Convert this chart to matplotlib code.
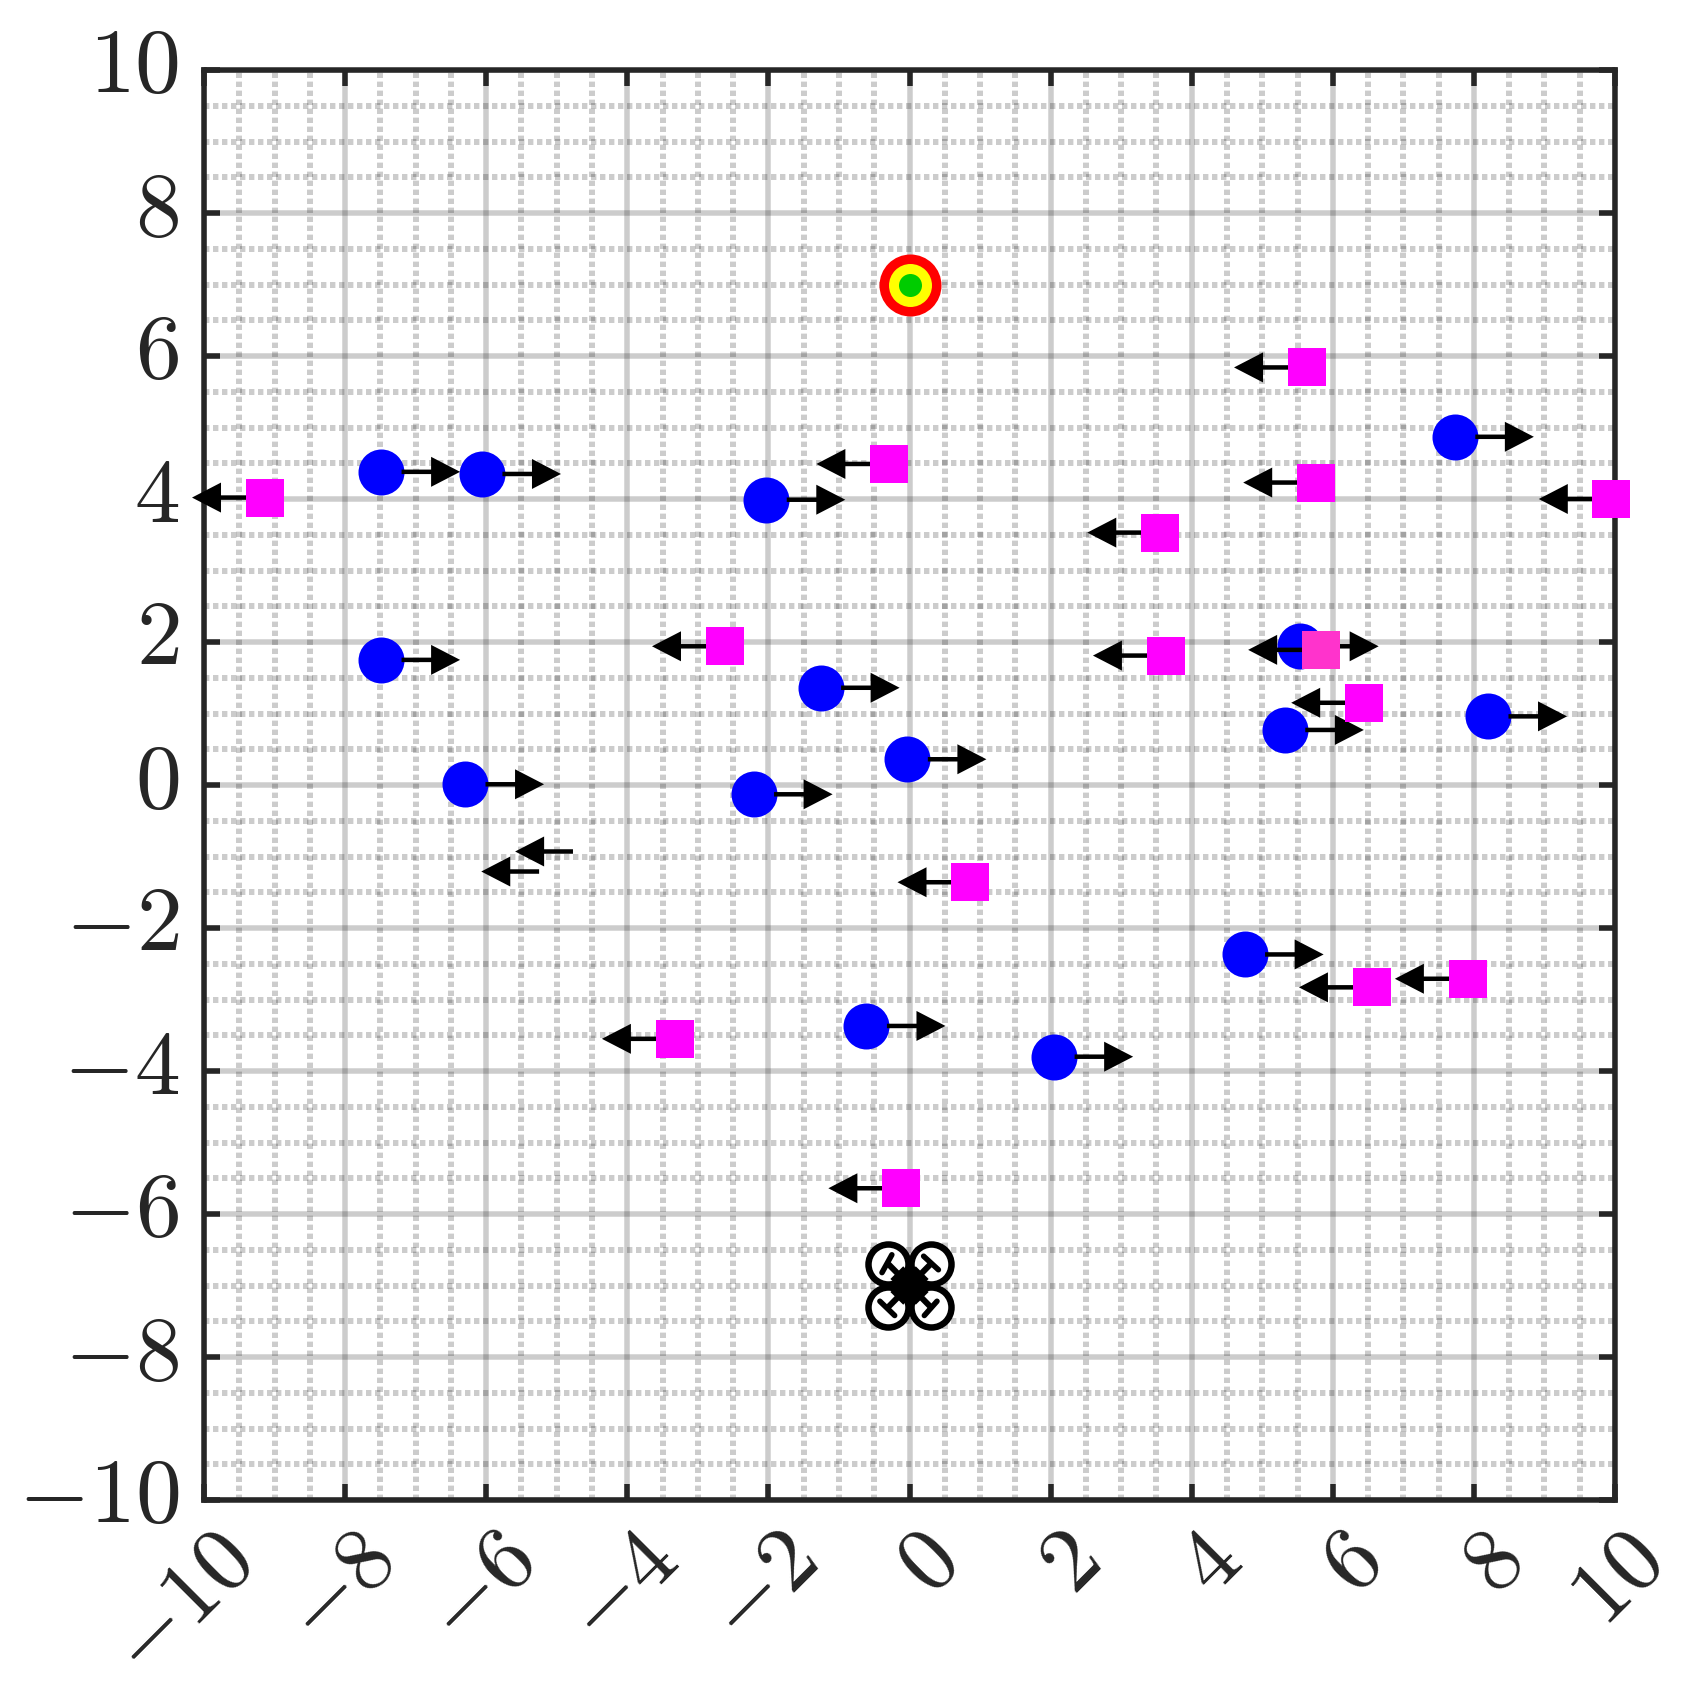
import matplotlib
matplotlib.use("Agg")
import matplotlib.pyplot as plt
from matplotlib.transforms import ScaledTranslation
import numpy as np

# ---- data ----
agent_x = [-7.49, -6.06, -2.03, 7.73, -7.49, -1.26, -6.30, -2.21, -0.03, 5.53, 5.32, 8.20, 4.75, -0.61, 2.05]
agent_y = [4.38, 4.35, 3.99, 4.87, 1.75, 1.36, 0.01, -0.13, 0.36, 1.94, 0.77, 0.96, -2.37, -3.37, -3.80]
obst_x = [-9.14, -0.29, 5.63, 5.76, 3.55, 9.95, -2.62, 3.63, 6.44, 0.86, 6.55, 7.91, -3.33, -0.12]
obst_y = [4.02, 4.49, 5.84, 4.23, 3.53, 4.00, 1.94, 1.81, 1.15, -1.36, -2.83, -2.71, -3.55, -5.64]
pink_x = [5.83]
pink_y = [1.89]
hidden_x = [-4.56, -5.04]
hidden_y = [-0.93, -1.21]
goal_x, goal_y = 0.0, 7.0
drone_x, drone_y = 0.0, -7.0
ticks = [-10, -8, -6, -4, -2, 0, 2, 4, 6, 8, 10]
minor_ticks = [-9.5, -9, -8.5, -7.5, -7, -6.5, -5.5, -5, -4.5, -3.5, -3, -2.5, -1.5, -1, -0.5,
               0.5, 1, 1.5, 2.5, 3, 3.5, 4.5, 5, 5.5, 6.5, 7, 7.5, 8.5, 9, 9.5]
tick_labels = [rf"${t}$" for t in ticks]

# rotor offsets and propeller bars, relative to the drone centre (data units)
rotor_dx = [-0.30, 0.30, -0.30, 0.30]
rotor_dy = [0.30, 0.30, -0.30, -0.30]
bar_start_dx = [-0.25, 0.20, -0.42, 0.39]
bar_start_dy = [0.43, 0.41, -0.22, -0.22]
bar_end_dx = [-0.39, 0.41, -0.21, 0.21]
bar_end_dy = [0.18, 0.22, -0.42, -0.42]

plt.rcParams["mathtext.fontset"] = "cm"
plt.rcParams["lines.scale_dashes"] = False

DPI = 100
px = 72 / DPI
INK = "#262626"
fig = plt.figure(figsize=(16.89, 17.02), dpi=DPI)
ax = fig.add_axes([204 / 1689, (1702 - 1500) / 1702, (1615 - 204) / 1689, (1500 - 70) / 1702])
ax.set_xlim(-10, 10)
ax.set_ylim(-10, 10)
ax.set_xticks(ticks)
ax.set_yticks(ticks)
ax.set_xticks(minor_ticks, minor=True)
ax.set_yticks(minor_ticks, minor=True)
ax.set_xticklabels(tick_labels)
ax.set_yticklabels(tick_labels)
ax.set_axisbelow(True)
ax.grid(True, which="major", color="k", alpha=0.2, lw=5.5 * px, linestyle="-")
ax.grid(True, which="minor", color="k", alpha=0.2, lw=6 * px, linestyle=(0, (5.4 * px, 3.6 * px)),
        dash_capstyle="butt")
ax.tick_params(which="minor", length=0)
ax.tick_params(which="major", direction="in", length=16 * px, width=5.5 * px, color=INK,
               top=True, right=True, labelsize=66, labelcolor=INK)
ax.tick_params(axis="y", pad=18)
ax.tick_params(axis="x", pad=4)
for s in ax.spines.values():
    s.set_linewidth(5.5 * px)
    s.set_color(INK)
    s.set_zorder(2.5)
for lab in ax.get_xticklabels():
    lab.set_rotation(45)
    lab.set_rotation_mode("anchor")
    lab.set_ha("right")
    lab.set_va("top")
    lab.set_transform(lab.get_transform() + ScaledTranslation(3 / DPI, -10 / DPI, fig.dpi_scale_trans))
for lab in ax.get_yticklabels():
    lab.set_transform(lab.get_transform() + ScaledTranslation(0, 13 / DPI, fig.dpi_scale_trans))


def arrow(x0, y0, x1, y1):
    ax.annotate("", xy=(x1, y1), xytext=(x0, y0), annotation_clip=False, zorder=5,
                arrowprops=dict(width=4.5 * px, headwidth=30 * px, headlength=29 * px, shrink=0,
                                lw=0, fc="k", ec="none"))


ax.plot(agent_x, agent_y, "o", ms=46 * px, mfc="#0000FF", mew=0, ls="none", clip_on=False, zorder=4)
for x, y in zip(agent_x, agent_y):
    arrow(x + 0.29, y, x + 1.12, y)
for x, y in zip(obst_x + pink_x + hidden_x, obst_y + pink_y + hidden_y):
    arrow(x - 0.21, y, x - 1.03, y)
ax.plot(obst_x, obst_y, "s", ms=38 * px, mfc="#FF00FF", mew=0, ls="none", clip_on=False, zorder=6)
ax.plot(pink_x, pink_y, "s", ms=38 * px, mfc="#FF33CC", mew=0, ls="none", clip_on=False, zorder=6)

ax.plot([goal_x], [goal_y], "o", ms=62 * px, mfc="#FF0000", mew=0, zorder=4)
ax.plot([goal_x], [goal_y], "o", ms=43 * px, mfc="#FFFF00", mew=0, zorder=4.1)
ax.plot([goal_x], [goal_y], "o", ms=23 * px, mfc="#00CC00", mew=0, zorder=4.2)

for i in range(4):
    rx, ry = drone_x + rotor_dx[i], drone_y + rotor_dy[i]
    ax.plot([rx], [ry], "o", ms=40 * px, mfc="white", mec="k", mew=6.5 * px, zorder=4)
for i in range(4):
    rx, ry = drone_x + rotor_dx[i], drone_y + rotor_dy[i]
    ax.plot([drone_x, drone_x + rotor_dx[i] * 0.6], [drone_y, drone_y + rotor_dy[i] * 0.6], "-k",
            lw=18 * px, solid_capstyle="butt", zorder=4.1)
    ax.plot([drone_x, rx], [drone_y, ry], "-k", lw=6 * px, solid_capstyle="butt", zorder=4.1)
    ax.plot([drone_x + bar_start_dx[i], drone_x + bar_end_dx[i]],
            [drone_y + bar_start_dy[i], drone_y + bar_end_dy[i]], "-k", lw=5.5 * px,
            solid_capstyle="round", zorder=4.1)
ax.plot([drone_x], [drone_y], "o", ms=30 * px, mfc="k", mew=0, zorder=4.2)

fig.savefig("out.png", dpi=DPI)
